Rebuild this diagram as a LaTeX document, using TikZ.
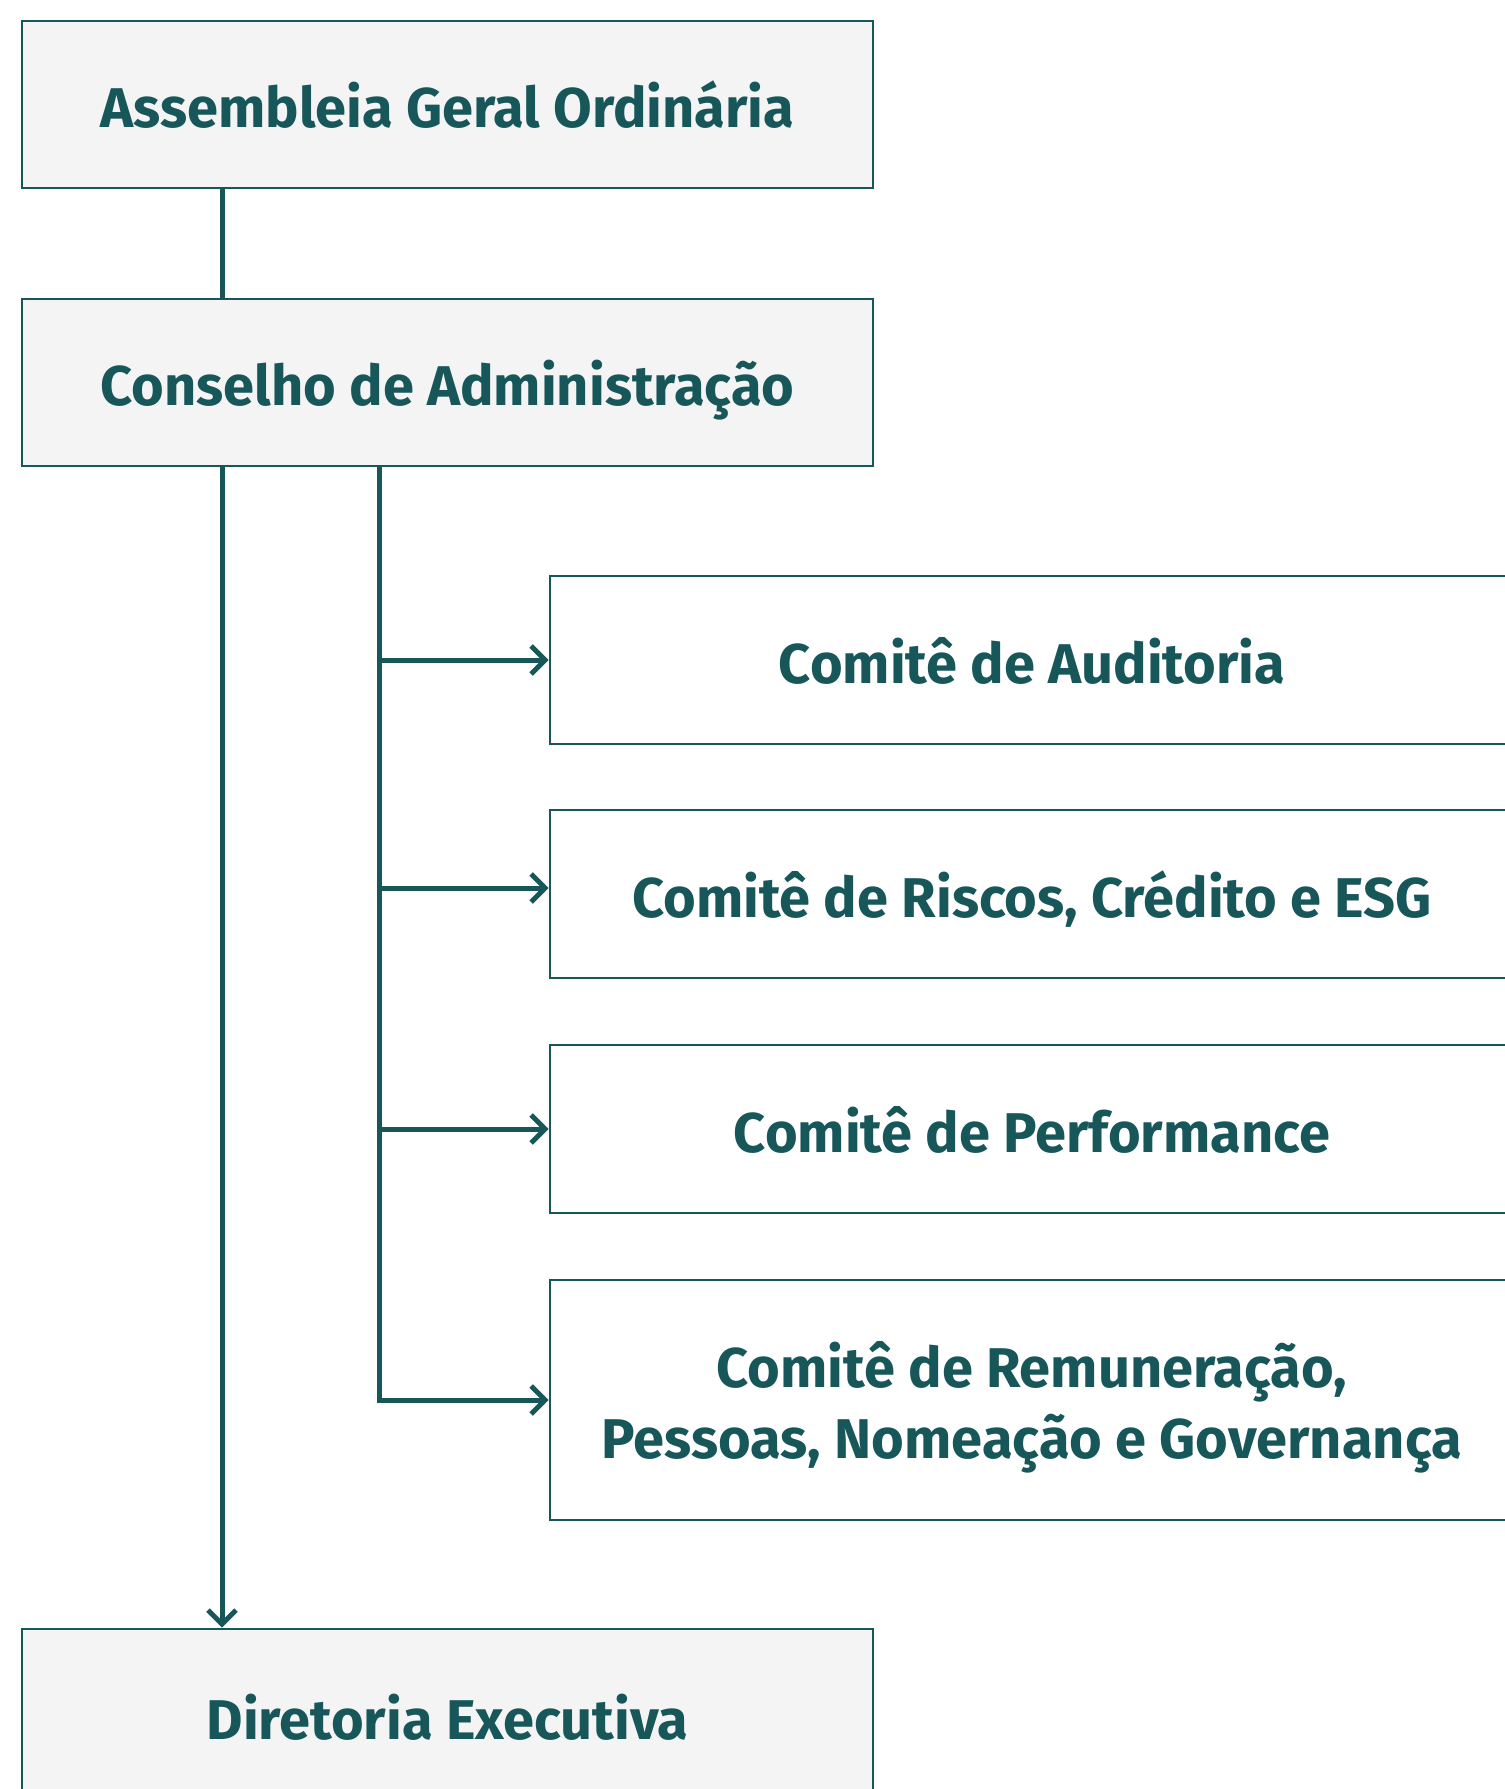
\documentclass[tikz,border=0pt]{standalone}
\usepackage{fontspec}
\setmainfont{Fira Sans}
\usetikzlibrary{arrows.meta}
\definecolor{dkteal}{HTML}{17575A}
\definecolor{boxgrey}{HTML}{F4F4F4}
\begin{document}
\begin{tikzpicture}[x=1pt,y=-1pt,
  basebox/.style={draw=dkteal, line width=2.6pt, inner sep=0pt, align=center,
    text=dkteal, text depth=0pt, font=\fontsize{56}{71}\selectfont\bfseries},
  gbox/.style={basebox, fill=boxgrey, minimum width=851pt},
  wbox/.style={basebox, fill=white, minimum width=964pt},
  conn/.style={draw=dkteal, line width=5pt},
  arr/.style={conn, -{Straight Barb[length=14pt,width=28pt]}}]
\useasboundingbox[fill=white] (0,0) rectangle (1505,1789);
\node[gbox, minimum height=167pt] (agm) at (447.5,104.5) {Assembleia Geral Ordinária};
\node[gbox, minimum height=167pt] (cons) at (447.5,382.5) {Conselho de Administração};
\node[wbox, minimum height=168pt] (aud) at (1032,660) {Comitê de Auditoria};
\node[wbox, minimum height=168pt] (ris) at (1032,894) {Comitê de Riscos, Crédito e ESG};
\node[wbox, minimum height=168pt] (perf) at (1032,1129) {Comitê de Performance};
\node[wbox, minimum height=240pt] (rem) at (1032,1400) {Comitê de Remuneração,\\Pessoas, Nomeação e Governança};
\node[gbox, minimum height=176pt] (dir) at (447.5,1717) {Diretoria Executiva};
\coordinate (c1) at (222,0);
\coordinate (c2) at (379.5,0);
\draw[conn] (agm.south -| c1) -- (cons.north -| c1);
\draw[arr] (cons.south -| c1) -- (dir.north -| c1);
\draw[arr] (cons.south -| c2) |- (rem.west);
\draw[arr] (c2 |- aud.west) -- (aud.west);
\draw[arr] ([yshift=6pt]ris.west -| c2) -- ([yshift=6pt]ris.west);
\draw[arr] (c2 |- perf.west) -- (perf.west);
\end{tikzpicture}
\end{document}
